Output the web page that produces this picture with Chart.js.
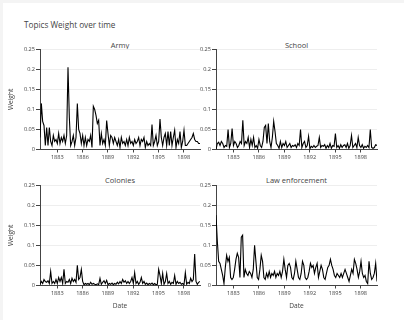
<!DOCTYPE html>
<html><head><meta charset="utf-8">
<script src="https://cdn.jsdelivr.net/npm/chart.js@4"></script>
<style>
html,body{margin:0;padding:0;background:#f4f4f4;width:404px;height:320px;overflow:hidden;}
#page{position:absolute;left:3px;top:3px;width:401px;height:317px;background:#fff;}
canvas{position:absolute;}
.t{position:absolute;font-family:"Open Sans";color:#444;white-space:nowrap;line-height:10px;}
.st{text-align:center;font-size:7.5px;}
</style></head><body>
<div id="page"></div>
<div class="t" style="left:24px;top:19.5px;font-size:8.2px;">Topics Weight over time</div>
<div class="t st" style="left:40px;top:39.5px;width:160px;">Army</div>
<div class="t st" style="left:216px;top:39.5px;width:161px;">School</div>
<div class="t st" style="left:40px;top:175px;width:160px;">Colonies</div>
<div class="t st" style="left:216px;top:175px;width:161px;">Law enforcement</div>
<canvas id="c0" width="204" height="122" style="left:0px;top:40px"></canvas>
<canvas id="c1" width="184" height="122" style="left:196px;top:40px"></canvas>
<canvas id="c2" width="204" height="136" style="left:0px;top:176px"></canvas>
<canvas id="c3" width="184" height="136" style="left:196px;top:176px"></canvas>
<script>
// ---- data ----
const topics = ['Army', 'School', 'Colonies', 'Law enforcement'];
const dateStart = 1880.95;   // first observation (decimal year)
const dateEnd = 1899.93;     // last observation (decimal year)
const xTickYears = [1883, 1886, 1889, 1892, 1895, 1898];
const yTickLabels = ['0', '0.05', '0.1', '0.15', '0.2', '0.25'];

const army = [0.03,0.115,0.07,0.06,0.01,0.055,0.01,0.055,0.02,0.01,0.035,0.02,0.025,0.015,0.04,0.015,0.03,0.02,0.035,0.015,0.035,0.205,0.08,0.01,0.02,0.035,0.01,0.03,0.115,0.05,0.04,0.015,0.035,0.01,0.03,0.01,0.025,0.02,0.035,0.005,0.108,0.1,0.085,0.065,0.073,0.01,0.04,0.015,0.025,0.01,0.072,0.04,0.01,0.035,0.03,0.015,0.03,0.02,0.01,0.025,0.005,0.03,0.015,0.02,0.01,0.025,0.01,0.03,0.015,0.02,0.01,0.025,0.015,0.02,0.03,0.01,0.025,0.02,0.03,0.005,0.02,0.01,0.015,0.01,0.062,0.01,0.02,0.035,0.01,0.02,0.076,0.03,0.01,0.03,0.04,0.01,0.045,0.01,0.045,0.01,0.03,0.048,0.005,0.025,0.015,0.045,0.005,0.02,0.048,0.01,0.01,0.015,0.02,0.025,0.03,0.04,0.025,0.02,0.02,0.015,0.015];
const school = [0.0,0.015,0.018,0.01,0.02,0.015,0.005,0.01,0.008,0.05,0.005,0.015,0.052,0.01,0.02,0.015,0.005,0.01,0.02,0.015,0.073,0.01,0.02,0.015,0.03,0.005,0.025,0.01,0.03,0.005,0.01,0.003,0.025,0.01,0.005,0.02,0.055,0.06,0.015,0.065,0.02,0.005,0.03,0.07,0.045,0.015,0.01,0.003,0.02,0.005,0.015,0.01,0.02,0.005,0.01,0.015,0.005,0.01,0.008,0.012,0.005,0.015,0.01,0.05,0.005,0.015,0.02,0.005,0.01,0.033,0.002,0.008,0.005,0.01,0.005,0.008,0.01,0.03,0.005,0.01,0.008,0.012,0.003,0.01,0.005,0.015,0.003,0.01,0.008,0.04,0.005,0.01,0.003,0.012,0.005,0.01,0.012,0.005,0.015,0.003,0.01,0.035,0.005,0.01,0.015,0.005,0.03,0.01,0.005,0.012,0.003,0.008,0.005,0.01,0.005,0.05,0.005,0.003,0.005,0.012,0.01];
const colonies = [0.003,0.01,0.005,0.015,0.01,0.008,0.012,0.005,0.035,0.005,0.01,0.005,0.015,0.005,0.02,0.01,0.02,0.005,0.04,0.005,0.01,0.008,0.015,0.005,0.018,0.01,0.015,0.008,0.05,0.015,0.02,0.04,0.01,0.002,0.005,0.003,0.005,0.002,0.008,0.003,0.005,0.003,0.002,0.004,0.002,0.018,0.003,0.008,0.012,0.005,0.013,0.002,0.005,0.003,0.006,0.002,0.005,0.003,0.008,0.004,0.01,0.005,0.015,0.008,0.012,0.005,0.01,0.005,0.01,0.02,0.005,0.032,0.005,0.01,0.003,0.008,0.02,0.005,0.01,0.003,0.006,0.002,0.005,0.003,0.006,0.002,0.005,0.002,0.003,0.04,0.025,0.005,0.03,0.003,0.01,0.03,0.005,0.01,0.003,0.008,0.005,0.025,0.003,0.01,0.005,0.008,0.003,0.005,0.002,0.032,0.003,0.008,0.005,0.018,0.01,0.015,0.078,0.01,0.003,0.008,0.01];
const lawEnforcement = [0.175,0.11,0.06,0.055,0.04,0.025,0.005,0.045,0.075,0.06,0.07,0.02,0.015,0.02,0.04,0.065,0.08,0.07,0.02,0.12,0.125,0.02,0.04,0.03,0.025,0.035,0.03,0.02,0.04,0.1,0.06,0.02,0.015,0.04,0.075,0.06,0.02,0.015,0.03,0.02,0.035,0.02,0.03,0.025,0.035,0.02,0.03,0.025,0.035,0.02,0.035,0.065,0.04,0.02,0.05,0.055,0.045,0.02,0.015,0.03,0.06,0.04,0.02,0.015,0.03,0.06,0.05,0.02,0.015,0.02,0.035,0.055,0.045,0.05,0.03,0.045,0.055,0.02,0.035,0.05,0.04,0.02,0.015,0.03,0.045,0.05,0.065,0.05,0.04,0.025,0.02,0.03,0.025,0.02,0.03,0.02,0.03,0.04,0.03,0.02,0.01,0.025,0.04,0.03,0.065,0.055,0.04,0.02,0.035,0.06,0.03,0.02,0.025,0.01,0.005,0.06,0.03,0.015,0.02,0.03,0.055,0.01];
const seriesList = [army, school, colonies, lawEnforcement];

// ---- drawing ----
Chart.defaults.font.family = "'Open Sans'";
Chart.defaults.color = '#444';

function toPoints(vals) {
  const n = vals.length;
  return vals.map((v, i) => ({x: dateStart + i * (dateEnd - dateStart) / (n - 1), y: v}));
}

const panels = [
  {id: 'c0', left: true,  bottom: false, padTop: 9.3},
  {id: 'c1', left: false, bottom: false, padTop: 9.3},
  {id: 'c2', left: true,  bottom: true,  padTop: 9},
  {id: 'c3', left: false, bottom: true,  padTop: 9}
];

panels.forEach((p, k) => {
  new Chart(document.getElementById(p.id), {
    type: 'line',
    data: {datasets: [{
      label: topics[k],
      data: toPoints(seriesList[k]),
      borderColor: '#000', borderWidth: 1.1, pointRadius: 0, tension: 0, fill: false
    }]},
    options: {
      responsive: false, animation: false,
      layout: {padding: {top: p.padTop, right: p.left ? 4 : 3, left: 0, bottom: 0}},
      plugins: {legend: {display: false}, tooltip: {enabled: false}, title: {display: false}},
      scales: {
        x: {
          type: 'linear', min: dateStart, max: dateEnd,
          afterBuildTicks: s => { s.ticks = xTickYears.map(v => ({value: v})); },
          afterFit: s => { s.height = p.bottom ? 26.5 : 12.5; },
          ticks: {autoSkip: false, maxRotation: 0, padding: 2, font: {size: 5.6}, color: '#444',
                  callback: v => String(v)},
          grid: {drawOnChartArea: false, drawTicks: true, tickLength: 3, tickColor: '#444'},
          border: {display: true, color: '#444', width: 1},
          title: {display: p.bottom, text: 'Date', font: {size: 6.6}, color: '#444', padding: {top: 0, bottom: 2.3}}
        },
        y: {
          min: 0, max: 0.25,
          afterBuildTicks: s => { s.ticks = yTickLabels.map(t => ({value: parseFloat(t)})); },
          afterFit: s => { s.width = p.left ? 40 : 20; },
          ticks: {padding: 1, font: {size: 5.6}, color: '#444',
                  callback: (v, i) => yTickLabels[i]},
          grid: {color: '#eeeeee', drawTicks: true, tickLength: 4, tickColor: '#444'},
          border: {display: true, color: '#444', width: 1},
          title: {display: p.left, text: 'Weight', font: {size: 6.6}, color: '#444', padding: {top: 7.5, bottom: 0}}
        }
      }
    }
  });
});
</script>
</body></html>
